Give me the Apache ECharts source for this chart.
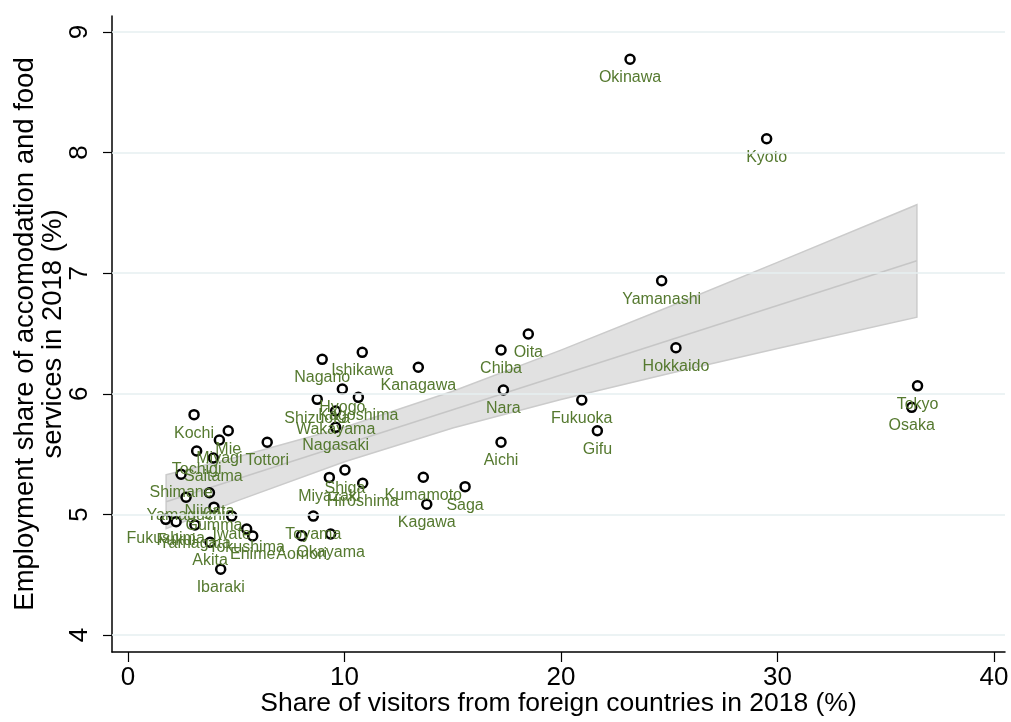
<!DOCTYPE html>
<html>
<head>
    <meta charset="utf-8">
    <title>Foreign visitors vs. accommodation and food services employment</title>
    <script src="https://cdn.jsdelivr.net/npm/echarts@6.0.0/dist/echarts.min.js"></script>
    <style>
        html, body { margin: 0; padding: 0; background: #fff; }
        #main { width: 1011px; height: 722px; }
    </style>
</head>
<body>
    <div id="main"></div>
    <script>
        // prefecture names and values
        const prefNames = [
            'Okinawa', 'Kyoto', 'Yamanashi', 'Hokkaido', 'Tokyo', 'Osaka', 'Fukuoka', 'Gifu',
            'Oita', 'Chiba', 'Nara', 'Aichi', 'Kanagawa', 'Ishikawa', 'Nagano', 'Hyogo',
            'Kagoshima', 'Shizuoka', 'Wakayama', 'Nagasaki', 'Shiga', 'Miyazaki', 'Hiroshima', 'Kumamoto',
            'Saga', 'Kagawa', 'Toyama', 'Aomori', 'Okayama', 'Tottori', 'Kochi', 'Mie',
            'Miyagi', 'Tochigi', 'Saitama', 'Shimane', 'Niigata', 'Yamaguchi', 'Gumma', 'Iwate',
            'Tokushima', 'Ehime', 'Akita', 'Ibaraki', 'Fukushima', 'Fukui', 'Yamagata'
        ];
        // share of visitors from foreign countries (%)
        const foreignShare = [
            23.19, 29.50, 24.65, 25.31, 36.47, 36.20, 20.96, 21.68,
            18.49, 17.23, 17.34, 17.23, 13.41, 10.82, 8.97, 9.90,
            10.64, 8.74, 9.59, 9.59, 10.02, 9.30, 10.84, 13.64,
            15.57, 13.80, 8.56, 8.02, 9.36, 6.43, 3.05, 4.63,
            4.22, 3.17, 3.94, 2.45, 3.76, 2.68, 3.97, 4.79,
            5.48, 5.76, 3.79, 4.28, 1.74, 2.22, 3.09
        ];
        // employment share of accommodation and food services (%)
        const employShare = [
            8.774, 8.115, 6.938, 6.382, 6.066, 5.888, 5.949, 5.694,
            6.496, 6.363, 6.032, 5.598, 6.220, 6.344, 6.286, 6.040,
            5.971, 5.954, 5.857, 5.722, 5.368, 5.307, 5.258, 5.308,
            5.230, 5.084, 4.986, 4.824, 4.838, 5.598, 5.827, 5.694,
            5.617, 5.526, 5.468, 5.333, 5.180, 5.142, 5.060, 4.986,
            4.879, 4.821, 4.769, 4.545, 4.959, 4.940, 4.912
        ];

        // fitted line and its confidence band
        const fitX = [1.76, 36.44];
        const fitY = [5.105, 7.104];
        const bandX = [1.76, 5, 10, 15, 20, 25, 30, 36.44];
        const bandLo = [4.881, 5.110, 5.437, 5.717, 5.952, 6.168, 6.376, 6.636];
        const bandHi = [5.329, 5.474, 5.723, 6.021, 6.362, 6.722, 7.090, 7.568];

        // tick labels
        const xTicks = [0, 10, 20, 30, 40];
        const yTicks = [4, 5, 6, 7, 8, 9];

        const FONT = "'Liberation Sans', Arial, Helvetica, sans-serif";
        const LABEL_GREEN = '#55792f';

        const chart = echarts.init(document.getElementById('main'), null, { renderer: 'canvas' });

        const option = {
            backgroundColor: '#ffffff',
            animation: false,
            grid: { left: 112, right: 6, top: 16, bottom: 70, containLabel: false, outerBoundsMode: 'none' },
            xAxis: {
                type: 'value',
                min: -0.74,
                max: 40.51,
                name: 'Share of visitors from foreign countries in 2018 (%)',
                nameLocation: 'middle',
                nameGap: 38,
                nameMoveOverlap: false,
                nameTextStyle: { fontSize: 26.5, color: '#000', fontFamily: FONT },
                axisLine: { show: true, onZero: false, lineStyle: { color: '#000', width: 1.5 } },
                axisTick: { show: true, customValues: xTicks, length: 10, lineStyle: { color: '#000', width: 1.2 } },
                axisLabel: { customValues: xTicks, fontSize: 26, color: '#000', margin: 13, fontFamily: FONT },
                splitLine: { show: false }
            },
            yAxis: {
                type: 'value',
                min: 3.859,
                max: 9.133,
                name: 'Employment share of accomodation and food\nservices in 2018 (%)',
                nameLocation: 'middle',
                nameGap: 45,
                nameRotate: 90,
                nameMoveOverlap: false,
                nameTextStyle: { fontSize: 27.5, color: '#000', fontFamily: FONT, lineHeight: 28 },
                axisLine: { show: true, onZero: false, lineStyle: { color: '#000', width: 1.5 } },
                axisTick: { show: true, customValues: yTicks, length: 9, lineStyle: { color: '#000', width: 1.2 } },
                axisLabel: { customValues: yTicks, rotate: 90, fontSize: 26, color: '#000', margin: 19, fontFamily: FONT },
                splitLine: { show: false }
            },
            series: [
                {
                    // horizontal grid lines
                    type: 'line',
                    data: [],
                    silent: true,
                    z: 0,
                    markLine: {
                        silent: true,
                        symbol: ['none', 'none'],
                        label: { show: false },
                        lineStyle: { color: '#e6eff1', width: 1.6, type: 'solid' },
                        data: yTicks.map(v => ({ yAxis: v }))
                    }
                },
                {
                    // confidence band
                    type: 'custom',
                    silent: true,
                    z: 1,
                    data: [[bandX[0], bandLo[0]]],
                    renderItem: function (params, api) {
                        const pts = [];
                        for (let i = 0; i < bandX.length; i++) {
                            pts.push(api.coord([bandX[i], bandHi[i]]));
                        }
                        for (let i = bandX.length - 1; i >= 0; i--) {
                            pts.push(api.coord([bandX[i], bandLo[i]]));
                        }
                        return {
                            type: 'polygon',
                            shape: { points: pts },
                            style: { fill: 'rgba(215,215,215,0.75)', stroke: '#cbcbcb', lineWidth: 1.5 }
                        };
                    }
                },
                {
                    // fitted values
                    type: 'line',
                    silent: true,
                    z: 2,
                    symbol: 'none',
                    data: fitX.map((x, i) => [x, fitY[i]]),
                    lineStyle: { color: '#c6c6c6', width: 1.6 }
                },
                {
                    type: 'scatter',
                    z: 3,
                    symbol: 'circle',
                    symbolSize: 9,
                    data: prefNames.map((n, i) => ({ name: n, value: [foreignShare[i], employShare[i]] })),
                    itemStyle: { color: '#ffffff', borderColor: '#000000', borderWidth: 2.5, opacity: 1 },
                    label: {
                        show: true,
                        position: 'bottom',
                        distance: 5,
                        formatter: '{b}',
                        color: LABEL_GREEN,
                        fontSize: 16,
                        fontFamily: FONT
                    }
                }
            ]
        };

        chart.setOption(option);
    </script>
</body>
</html>
